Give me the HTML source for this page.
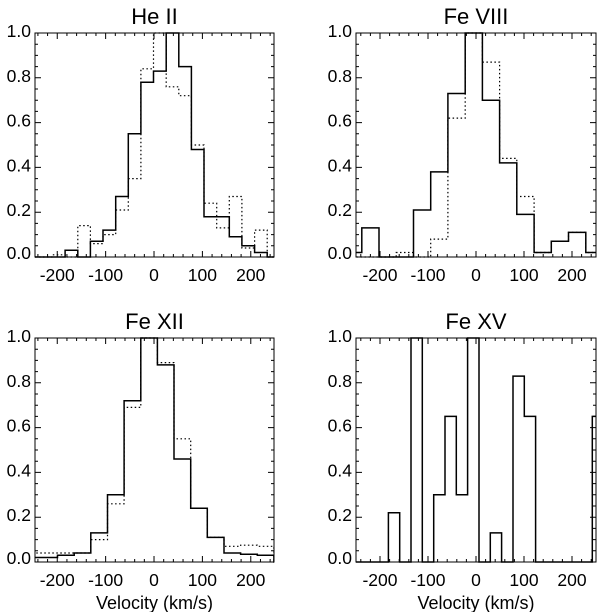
<!DOCTYPE html>
<html><head><meta charset="utf-8"><style>
body{margin:0;background:#fff;width:600px;height:612px;overflow:hidden}
svg{display:block}
text{font-family:"Liberation Sans",sans-serif;fill:#000}
</style></head><body>
<svg id="chart" width="600" height="612" viewBox="0 0 600 612"></svg>
<script>
// Panel titles
const titles = ["He II", "Fe VIII", "Fe XII", "Fe XV"];
// Bin starts (km/s) and bin widths (km/s)
const binStarts = [-235.9, -273.9, -268.2, -229.8];
const binWidths = [26.1, 35.9, 34.4, 23.6];
// Series (normalized)
const heIISolid = [0,0,0.03,0,0.07,0.12,0.27,0.55,0.78,0.83,1.0,0.85,0.48,0.18,0.18,0.09,0.05,0.02,0];
const heIIDotted = [0,0.01,0,0.14,0.06,0.10,0.21,0.35,0.84,1.0,0.76,0.72,0.50,0.24,0.13,0.27,0.04,0.12,0];
const feVIIISolid = [0.02,0.13,0,0,0.21,0.38,0.73,1.0,0.70,0.42,0.19,0.02,0.07,0.11,0.02];
const feVIIIDotted = [0,0,0,0.02,0,0.08,0.62,1.0,0.87,0.44,0.27,0.02,0.07,0.11,0.02];
const feXIISolid = [0.02,0.02,0.03,0.04,0.13,0.30,0.72,1.0,0.88,0.46,0.24,0.11,0.04,0.035,0.03,0];
const feXIIDotted = [0.04,0.04,0.04,0.04,0.10,0.26,0.69,1.0,0.89,0.55,0.24,0.11,0.07,0.075,0.07,0];
const feXVSolid = [0,0,0.22,0,1.0,0,0.30,0.65,0.30,1.0,0,0.13,0,0.83,0.65,0,0,0,0,0,0.65];
const feXVDotted = null;
const xTicks = [-200,-100,0,100,200];
const yTicks = [0,0.2,0.4,0.6,0.8,1.0];
const yTickLabels = ["0.0","0.2","0.4","0.6","0.8","1.0"];
const xAxisTitle = "Velocity (km/s)";

const panels = [
  {x0:35,x1:274,y0:33,y1:257,vmin:-246,vmax:248,solid:heIISolid,dotted:heIIDotted,xlabel:false,name:"he-ii"},
  {x0:356,x1:596,y0:33,y1:257,vmin:-250,vmax:250,solid:feVIIISolid,dotted:feVIIIDotted,xlabel:false,name:"fe-viii"},
  {x0:35,x1:274,y0:338,y1:562,vmin:-246,vmax:248,solid:feXIISolid,dotted:feXIIDotted,xlabel:true,name:"fe-xii"},
  {x0:356,x1:596,y0:338,y1:562,vmin:-250,vmax:250,solid:feXVSolid,dotted:feXVDotted,xlabel:true,name:"fe-xv"}
];
const NS="http://www.w3.org/2000/svg";
const svg=document.getElementById('chart');
function mk(tag,attrs,parent){const e=document.createElementNS(NS,tag);for(const k in attrs)e.setAttribute(k,attrs[k]);(parent||svg).appendChild(e);return e;}

panels.forEach((p,i)=>{
  const g=mk('g',{});
  
  
  const sx=v=>p.x0+(v-p.vmin)/(p.vmax-p.vmin)*(p.x1-p.x0);
  const sy=v=>p.y1-v*(p.y1-p.y0);
  const clip=mk('clipPath',{id:'c'+i},g);
  mk('rect',{x:p.x0,y:p.y0-2,width:p.x1-p.x0,height:p.y1-p.y0+3},clip);
  function step(vals,dash,nm){
    let d='';
    for(let k=0;k<vals.length;k++){
      let a=binStarts[i]+k*binWidths[i], b=a+binWidths[i];
      if(k===0)a=Math.min(a,p.vmin);
      if(k===vals.length-1)b=Math.max(b,p.vmax);
      const y=sy(vals[k]);
      d+=(k===0?'M':'L')+sx(a).toFixed(1)+','+y.toFixed(1)+'L'+sx(b).toFixed(1)+','+y.toFixed(1);
    }
    const path=mk('path',{d:d,fill:'none',stroke:'#000','stroke-width':dash?1.2:1.5,'stroke-dasharray':dash?'1.5,2.5':'none','clip-path':'url(#c'+i+')'},g);
    
    
  }
  if(p.dotted)step(p.dotted,true,p.name+'-dotted-series');
  step(p.solid,false,p.name+'-solid-series');
  const frame=mk('rect',{x:p.x0,y:p.y0,width:p.x1-p.x0,height:p.y1-p.y0,fill:'none',stroke:'#000','stroke-width':1},g);
  
  
  let td='';
  for(let v=-240;v<=p.vmax;v+=20){ if(v<p.vmin)continue; const x=sx(v); const L=(v%100===0)?6:3;
    td+='M'+x+','+p.y1+'v'+(-L)+'M'+x+','+p.y0+'v'+L; }
  for(let v=0;v<=1.0001;v+=0.05){ const y=sy(v); const L=(Math.round(v*100)%20===0)?6:3;
    td+='M'+p.x0+','+y+'h'+L+'M'+p.x1+','+y+'h'+(-L); }
  mk('path',{d:td,stroke:'#000','stroke-width':1,fill:'none'},g);
  xTicks.forEach(v=>{
    const t=mk('text',{x:sx(v),y:p.y1+24,'text-anchor':'middle','font-size':17.5},g);
    t.textContent=String(v);
    
    
  });
  yTicks.forEach((v,k)=>{
    const t=mk('text',{x:p.x0-4,y:sy(v)+4 - (v===0?2:0),'text-anchor':'end','font-size':17.5},g);
    t.textContent=yTickLabels[k];
    
    
  });
  const tt=mk('text',{x:(p.x0+p.x1)/2,y:p.y0-9,'text-anchor':'middle','font-size':22},g);
  tt.textContent=titles[i];
  
  
  if(p.xlabel){
    const xl=mk('text',{x:(p.x0+p.x1)/2,y:p.y1+47,'text-anchor':'middle','font-size':18},g);
    xl.textContent=xAxisTitle;
    
    
  }
});
</script>
</body></html>
